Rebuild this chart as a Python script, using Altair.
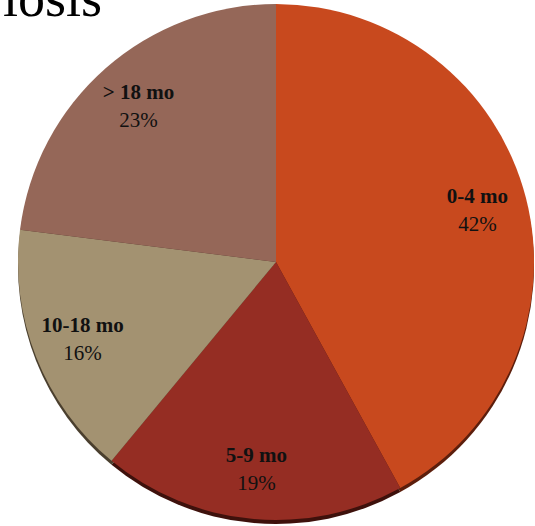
import altair as alt
import pandas as pd

# Time from symptom onset to diagnosis
ranges = ["0-4 mo", "5-9 mo", "10-18 mo", "> 18 mo"]
shares = [42, 19, 16, 23]
face_colors = ["#C8491E", "#952D23", "#A39271", "#956758"]
edge_colors = ["#5C1E0C", "#3E110C", "#4A3F2E", "#4A3028"]
title_text = ["iosis"]

df = pd.DataFrame({
    "range": ranges,
    "share": shares,
    "pct": [f"{v}%" for v in shares],
    "order": list(range(len(ranges))),
})

cx, cy, r = 276, 262, 258

base = alt.Chart(df).encode(
    theta=alt.Theta("share:Q", stack=True),
    order=alt.Order("order:Q"),
)

# darker rim drawn slightly lower to give the pie some depth
edge = base.mark_arc(outerRadius=r, x=cx, y=cy + 4).encode(
    color=alt.Color("range:N", sort=ranges,
                    scale=alt.Scale(domain=ranges, range=edge_colors), legend=None)
)

face = base.mark_arc(outerRadius=r, x=cx, y=cy).encode(
    fill=alt.Fill("range:N", sort=ranges,
                  scale=alt.Scale(domain=ranges, range=face_colors), legend=None)
)

label_range = base.mark_text(
    radius=208, x=cx, y=cy, dy=-13, font="Liberation Serif",
    size=21, fontWeight="bold", color="#111111"
).encode(text="range:N")

label_pct = base.mark_text(
    radius=208, x=cx, y=cy, dy=15, font="Liberation Serif",
    size=21, color="#111111"
).encode(text="pct:N")

title = alt.Chart(pd.DataFrame({"t": title_text})).mark_text(
    font="Liberation Serif", size=54, align="left", baseline="alphabetic",
    color="#000000"
).encode(text="t:N", x=alt.value(3), y=alt.value(16))

chart = alt.layer(edge, face, label_range, label_pct, title).resolve_scale(
    color="independent", fill="independent"
).properties(
    width=535, height=526,
    autosize=alt.AutoSizeParams(type="none"),
    padding=0,
).configure_view(stroke=None)

chart.save("out.html", embed_options={"renderer": "svg", "actions": False})
